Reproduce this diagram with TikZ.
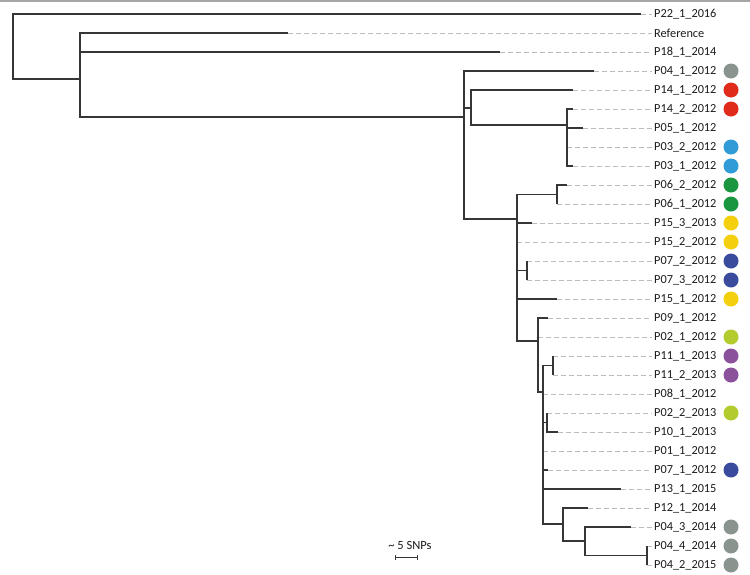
\documentclass[tikz,border=0pt]{standalone}
\usepackage{fontspec}
\setmainfont{Carlito}
\definecolor{treec}{HTML}{363636}
\definecolor{dashc}{HTML}{BDBDBD}
\definecolor{labc}{HTML}{1A1A1A}
\definecolor{cgray}{HTML}{8A948F}
\definecolor{cred}{HTML}{E02B1B}
\definecolor{cblue}{HTML}{2F9BD7}
\definecolor{cgreen}{HTML}{1A9641}
\definecolor{cyellow}{HTML}{F4D00C}
\definecolor{cnavy}{HTML}{3A4B9E}
\definecolor{clime}{HTML}{B3CB2D}
\definecolor{cpurple}{HTML}{8C519B}
\begin{document}
\begin{tikzpicture}[x=1pt,y=-1pt,
  br/.style={draw=treec, line width=1.2pt},
  dashln/.style={draw=dashc, line width=0.8pt, dash pattern=on 4.5pt off 3.5pt},
  lab/.style={anchor=west, inner sep=2pt, font=\fontsize{12.3}{14}\selectfont, text=labc},
  dot/.style={circle, inner sep=0pt, minimum size=15pt}]
\useasboundingbox (0,0) rectangle (750,574);
\draw[draw=gray!70, line width=1.5pt] (0,1) -- (750,1);
% leaves: name/index/tip x/label
\foreach \n/\i/\x/\t in {
  P22/0/641/P22\_1\_2016, Ref/1/288/Reference, P18/2/500/P18\_1\_2014,
  P041/3/594/P04\_1\_2012, P141/4/573/P14\_1\_2012, P142/5/573/P14\_2\_2012,
  P05/6/583/P05\_1\_2012, P032/7/567/P03\_2\_2012, P031/8/573/P03\_1\_2012,
  P062/9/567/P06\_2\_2012, P061/10/557/P06\_1\_2012, P153/11/532/P15\_3\_2013,
  P152/12/517/P15\_2\_2012, P072/13/527/P07\_2\_2012, P073/14/527/P07\_3\_2012,
  P151/15/557/P15\_1\_2012, P09/16/548/P09\_1\_2012, P021/17/538/P02\_1\_2012,
  P111/18/553/P11\_1\_2013, P112/19/553/P11\_2\_2013, P08/20/543/P08\_1\_2012,
  P022/21/547/P02\_2\_2013, P10/22/558/P10\_1\_2013, P01/23/543/P01\_1\_2012,
  P071/24/548/P07\_1\_2012, P13/25/621/P13\_1\_2015, P12/26/588/P12\_1\_2014,
  P043/27/631/P04\_3\_2014, P044/28/647/P04\_4\_2014, P042/29/647/P04\_2\_2015}{
  \coordinate (t\n) at (\x,{14+19*\i});
  \node[lab] (l\n) at (652,{14+19*\i}) {\t};
  \draw[dashln] (t\n) -- (l\n.west);
}
% internal nodes
\coordinate (root) at (13,46);
\coordinate (A) at (80,79);
\coordinate (B) at (464,117);
\coordinate (C) at (471,108);
\coordinate (D) at (567,125);
\coordinate (E) at (517,219);
\coordinate (G) at (557,194.5);
\coordinate (H) at (527,270.5);
\coordinate (F) at (538,341);
\coordinate (I) at (543,392);
\coordinate (K) at (553,365.5);
\coordinate (L) at (547,422.5);
\coordinate (J) at (563,524);
\coordinate (M) at (585,541);
\coordinate (N) at (647,555.5);
\foreach \p/\c in {root/tP22, root/A, A/tRef, A/tP18, A/B,
  B/tP041, B/C, B/E, C/tP141, C/D,
  D/tP142, D/tP05, D/tP032, D/tP031,
  E/G, E/tP153, E/tP152, E/H, E/tP151, E/F,
  G/tP062, G/tP061, H/tP072, H/tP073,
  F/tP09, F/tP021, F/I,
  I/K, I/tP08, I/L, I/tP01, I/tP071, I/tP13, I/J,
  K/tP111, K/tP112, L/tP022, L/tP10,
  J/tP12, J/M, M/tP043, M/N, N/tP044, N/tP042}{
  \draw[br] (\p) |- (\c);
}
% coloured markers
\coordinate (dotx) at (731,0);
\foreach \n/\c in {P041/cgray, P141/cred, P142/cred, P032/cblue, P031/cblue,
  P062/cgreen, P061/cgreen, P153/cyellow, P152/cyellow, P072/cnavy, P073/cnavy,
  P151/cyellow, P021/clime, P111/cpurple, P112/cpurple, P022/clime, P071/cnavy,
  P043/cgray, P044/cgray, P042/cgray}{
  \node[dot, fill=\c] (c\n) at (t\n -| dotx) {};
}
% scale bar
\node[font=\fontsize{12.5}{14}\selectfont, text=labc, inner sep=1pt] (sbt) at (410,545) {\textasciitilde{} 5 SNPs};
\coordinate (sbl) at (395,557);
\coordinate (sbr) at (417,557);
\draw[treec, line width=0.9pt] (sbl) -- (sbr);
\draw[treec, line width=0.9pt] ([yshift=-2.5pt]sbl) -- ([yshift=2.5pt]sbl);
\draw[treec, line width=0.9pt] ([yshift=-2.5pt]sbr) -- ([yshift=2.5pt]sbr);
\end{tikzpicture}
\end{document}
